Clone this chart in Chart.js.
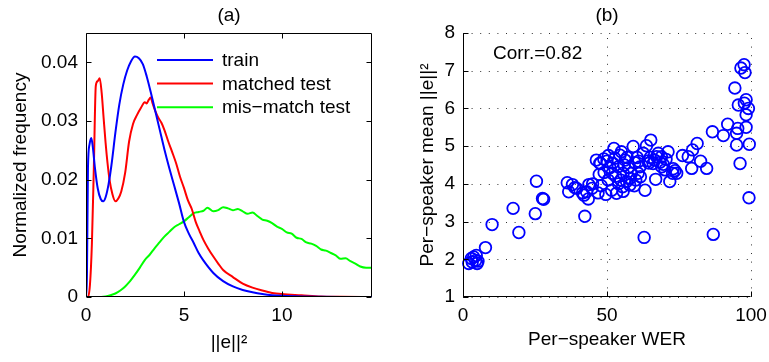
<!DOCTYPE html>
<html>
<head>
<meta charset="utf-8">
<script src="https://cdn.jsdelivr.net/npm/chart.js@4.4.1/dist/chart.umd.min.js"></script>
<style>
html, body { margin: 0; padding: 0; background: #fff; overflow: hidden; }
#wrap { position: relative; width: 769px; height: 362px; overflow: hidden; }
canvas { position: absolute; top: 0; }
#chart-a { left: 0; }
#chart-b { left: 385px; }
</style>
</head>
<body>
<div id="wrap">
  <canvas id="chart-a" width="385" height="362"></canvas>
  <canvas id="chart-b" width="400" height="362"></canvas>
</div>
<script>
// ---- panel (a): distributions of ||e||^2 ----
const trainX = [0, 0.05, 0.1, 0.18, 0.27, 0.35, 0.45, 0.6, 0.75, 0.88,
    1.0, 1.15, 1.3, 1.5, 1.7, 1.9, 2.1, 2.3, 2.5, 2.7,
    2.9, 3.1, 3.3, 3.5, 3.75, 4.0, 4.25, 4.5, 4.75, 5.0,
    5.25, 5.5, 5.75, 6.0, 6.5, 7.0, 7.5, 8.0, 8.5, 9.0,
    9.5, 10, 11, 12, 13, 14.6];
const trainY = [0, 0.004, 0.022, 0.026, 0.0271, 0.0255, 0.0222, 0.0185, 0.0167, 0.0163,
    0.0170, 0.0192, 0.0225, 0.0280, 0.0328, 0.0362, 0.0386, 0.0402, 0.0410, 0.0407,
    0.0397, 0.0376, 0.0350, 0.0322, 0.0287, 0.0252, 0.0220, 0.0190, 0.0160, 0.0128,
    0.0108, 0.0092, 0.0075, 0.0062, 0.0041, 0.0027, 0.0018, 0.0012, 0.0008, 0.0005,
    0.0003, 0.0002, 0.0001, 0.00005, 0.00002, 0];

const matchedX = [0, 0.1, 0.2, 0.3, 0.4, 0.5, 0.6, 0.7, 0.8, 0.9,
    1.0, 1.1, 1.2, 1.35, 1.5, 1.65, 1.8, 2.0, 2.2, 2.4,
    2.6, 2.8, 3.0, 3.1, 3.2, 3.3, 3.4, 3.55, 3.7, 3.85,
    4.0, 4.2, 4.4, 4.6, 4.8, 5.0, 5.2, 5.4, 5.6, 5.8,
    6.0, 6.25, 6.5, 6.75, 7.0, 7.5, 8.0, 8.5, 9.0, 9.5,
    10, 11, 12, 13, 14.6];
const matchedY = [0, 0, 0.002, 0.009, 0.022, 0.036, 0.0368, 0.0373, 0.0348, 0.0305,
    0.0263, 0.0228, 0.0200, 0.0175, 0.0163, 0.0168, 0.0180, 0.0212, 0.0265, 0.0295,
    0.0310, 0.0322, 0.0332, 0.0330, 0.0336, 0.0340, 0.0330, 0.0316, 0.0305, 0.0297,
    0.0285, 0.0265, 0.0247, 0.0228, 0.0205, 0.0186, 0.0165, 0.0150, 0.0128, 0.0112,
    0.0097, 0.0082, 0.0069, 0.0057, 0.0046, 0.0034, 0.0023, 0.0016, 0.0011, 0.0007,
    0.0005, 0.0003, 0.0001, 0.00005, 0];

const mismatchX = [0, 0.5, 1.0, 1.25, 1.5, 1.75, 2.0, 2.25, 2.5, 2.75,
    3.0, 3.25, 3.5, 3.75, 4.0, 4.25, 4.5, 4.75, 5.0, 5.25,
    5.5, 5.75, 6.0, 6.2, 6.5, 6.75, 7.0, 7.25, 7.5, 7.75,
    8.0, 8.25, 8.5, 8.75, 9.0, 9.25, 9.5, 9.75, 10, 10.25,
    10.5, 10.75, 11, 11.25, 11.5, 11.75, 12, 12.25, 12.5, 12.75,
    13, 13.25, 13.5, 13.75, 14, 14.3, 14.6];
const mismatchY = [0, 0, 0.0001, 0.0003, 0.0006, 0.0011, 0.0018, 0.0027, 0.0038, 0.0050,
    0.0063, 0.0072, 0.0083, 0.0093, 0.0103, 0.0111, 0.0119, 0.0124, 0.0129, 0.0136,
    0.0143, 0.0145, 0.0147, 0.0152, 0.0146, 0.0148, 0.0153, 0.0151, 0.0148, 0.0150,
    0.0146, 0.0142, 0.0144, 0.0138, 0.0132, 0.0130, 0.0126, 0.0120, 0.0116, 0.0110,
    0.0108, 0.0101, 0.0099, 0.0093, 0.0091, 0.0087, 0.0081, 0.0079, 0.0075, 0.0071,
    0.0065, 0.0066, 0.0061, 0.0057, 0.0052, 0.0050, 0.0050];

const seriesNamesA = ['train', 'matched test', 'mis\u2212match test'];
const xTicksA = [0, 5, 10];
const yTicksA = [0, 0.01, 0.02, 0.03, 0.04];

// ---- panel (b): per-speaker WER vs mean ||e||^2 ----
const werX = [2.0, 2.9, 3.7, 4.4, 4.9, 4.6, 3.2, 7.8, 10.1, 17.4,
    19.4, 25.1, 25.5, 27.6, 28.0, 42.3, 36.2, 36.7, 38.0, 38.8,
    41.5, 42.9, 43.5, 43.7, 44.8, 46.9, 46.3, 47.7, 47.3, 48.9,
    49.6, 50.4, 51.0, 52.4, 51.8, 52.7, 53.3, 53.9, 54.5, 54.8,
    55.4, 55.6, 56.3, 56.8, 57.4, 57.9, 58.5, 59.1, 59.7, 60.0,
    60.8, 61.4, 61.6, 62.6, 63.2, 63.7, 65.2, 64.3, 66.0, 66.9,
    67.2, 67.8, 68.4, 68.9, 69.5, 70.1, 71.2, 71.8, 72.8, 73.6,
    74.2, 76.2, 78.2, 79.4, 79.7, 81.3, 82.5, 84.6, 86.6, 90.4,
    91.9, 94.4, 95.4, 95.0, 95.6, 95.0, 96.2, 96.5, 97.6, 97.9,
    97.7, 98.3, 99.1, 98.3, 98.3, 99.4, 99.3, 62.9, 86.9, 51.6,
    55.6, 48.0, 45.0, 39.5, 50.0, 53.0, 57.0, 58.0, 59.5, 61.0,
    65.0, 66.5, 69.0, 70.5, 56.0, 54.0, 52.0, 49.0, 60.5, 64.5,
    42.0, 50.5, 55.0, 47.5, 73.0, 5.2];
const meanE = [1.89, 2.02, 2.06, 1.97, 1.89, 2.10, 1.93, 2.31, 2.92, 3.35,
    2.71, 3.21, 4.07, 3.61, 3.59, 3.14, 4.03, 3.79, 3.98, 3.90,
    3.76, 3.79, 3.60, 3.98, 3.88, 3.76, 4.63, 4.54, 4.25, 4.66,
    3.72, 4.10, 4.43, 4.94, 4.28, 4.68, 3.75, 4.45, 4.76, 4.10,
    3.92, 4.28, 4.63, 4.06, 4.43, 3.97, 4.28, 4.99, 4.56, 4.10,
    4.28, 4.45, 4.19, 4.81, 3.83, 5.01, 5.16, 4.61, 4.54, 4.12,
    4.72, 4.81, 4.57, 4.72, 4.52, 4.37, 4.85, 4.06, 4.28, 4.35,
    4.28, 4.75, 4.72, 4.41, 4.90, 5.07, 4.60, 4.41, 5.38, 5.28,
    5.58, 6.54, 5.47, 5.03, 6.09, 5.34, 4.54, 7.07, 7.16, 6.95,
    6.14, 6.23, 6.00, 5.83, 5.50, 5.05, 3.63, 2.58, 2.66, 3.83,
    3.80, 3.95, 4.00, 3.88, 4.60, 4.20, 4.70, 4.15, 3.95, 4.60,
    4.70, 4.63, 4.45, 4.65, 4.50, 4.00, 4.55, 4.30, 4.70, 4.55,
    3.70, 4.75, 4.85, 4.55, 4.40, 1.95];

const xTicksB = [0, 50, 100];
const yTicksB = [1, 2, 3, 4, 5, 6, 7, 8];
const corrLabel = 'Corr.=0.82';

function pairs(xs, ys) {
    return xs.map((x, i) => ({x: x, y: ys[i]}));
}

Chart.defaults.font.family = '"Liberation Sans", Arial, Helvetica, sans-serif';
Chart.defaults.font.size = 19;
Chart.defaults.color = '#000';

// matlab style box, inner ticks, dotted grid, panel title and text
const matlabAxes = {
    id: 'matlabAxes',
    beforeDatasetsDraw(chart, args, opts) {
        if (!opts.grid) return;
        const {ctx, chartArea: a, scales: {x, y}} = chart;
        ctx.save();
        ctx.strokeStyle = '#333';
        ctx.lineWidth = 1;
        ctx.setLineDash([1, 7.6]);
        x.ticks.forEach(t => {
            const px = Math.round(x.getPixelForValue(t.value)) + 0.5;
            ctx.beginPath(); ctx.moveTo(px, a.bottom); ctx.lineTo(px, a.top); ctx.stroke();
        });
        y.ticks.forEach(t => {
            const py = Math.round(y.getPixelForValue(t.value)) + 0.5;
            ctx.beginPath(); ctx.moveTo(a.left, py); ctx.lineTo(a.right, py); ctx.stroke();
        });
        ctx.restore();
    },
    afterDraw(chart, args, opts) {
        const {ctx, chartArea: a, scales: {x, y}} = chart;
        const L = Math.round(a.left) + 0.5, R = Math.round(a.right) - 0.5;
        const T = Math.round(a.top) + 0.5, B = Math.round(a.bottom) - 0.5;
        const tl = 5;
        ctx.save();
        ctx.strokeStyle = '#000';
        ctx.lineWidth = 1;
        ctx.setLineDash([]);
        ctx.beginPath();
        ctx.moveTo(L, T); ctx.lineTo(L, B); ctx.lineTo(R, B);
        if (opts.box) { ctx.lineTo(R, T); ctx.lineTo(L, T); }
        ctx.stroke();
        x.ticks.forEach(t => {
            const px = Math.round(x.getPixelForValue(t.value)) + 0.5;
            ctx.beginPath(); ctx.moveTo(px, B); ctx.lineTo(px, B - tl); ctx.stroke();
            if (opts.box) { ctx.beginPath(); ctx.moveTo(px, T); ctx.lineTo(px, T + tl); ctx.stroke(); }
        });
        y.ticks.forEach(t => {
            const py = Math.round(y.getPixelForValue(t.value)) + 0.5;
            ctx.beginPath(); ctx.moveTo(L, py); ctx.lineTo(L + tl, py); ctx.stroke();
            if (opts.box) { ctx.beginPath(); ctx.moveTo(R, py); ctx.lineTo(R - tl, py); ctx.stroke(); }
        });

        // panel title
        ctx.fillStyle = '#000';
        ctx.font = '19px "Liberation Sans", Arial, sans-serif';
        ctx.textAlign = 'center';
        ctx.textBaseline = 'middle';
        ctx.fillText(opts.title, (a.left + a.right) / 2, 16);

        // legend inside the axes
        if (opts.legend) {
            ctx.textAlign = 'left';
            chart.data.datasets.forEach((ds, i) => {
                const ly = 60 + i * 23.6;
                ctx.strokeStyle = ds.borderColor;
                ctx.lineWidth = 2;
                ctx.beginPath(); ctx.moveTo(157, ly); ctx.lineTo(213, ly); ctx.stroke();
                ctx.fillText(ds.label, 222, ly + 1);
            });
        }
        if (opts.note) {
            ctx.textAlign = 'left';
            ctx.fillText(opts.note, 108, 54);
        }
        ctx.restore();
    }
};

function fixTicks(list) {
    return scale => { scale.ticks = list.map(v => ({value: v})); };
}

const chartA = new Chart(document.getElementById('chart-a'), {
    type: 'line',
    data: {
        datasets: [
            {label: seriesNamesA[0], data: pairs(trainX, trainY), borderColor: '#0000ff'},
            {label: seriesNamesA[1], data: pairs(matchedX, matchedY), borderColor: '#ff0000'},
            {label: seriesNamesA[2], data: pairs(mismatchX, mismatchY), borderColor: '#00ff00'}
        ]
    },
    options: {
        responsive: false,
        animation: false,
        layout: {padding: {top: 33, right: 13, left: 0, bottom: 0}},
        elements: {
            point: {radius: 0},
            line: {borderWidth: 2, cubicInterpolationMode: 'monotone', fill: false}
        },
        plugins: {
            legend: {display: false},
            tooltip: {enabled: false},
            matlabAxes: {box: true, grid: false, legend: true, title: '(a)'}
        },
        scales: {
            x: {
                type: 'linear', min: 0, max: 14.6,
                afterBuildTicks: fixTicks(xTicksA),
                afterFit: s => { s.height = 65; },
                grid: {display: false, drawTicks: false},
                border: {display: false},
                ticks: {padding: 7, maxRotation: 0},
                title: {display: true, text: '||e||\u00b2', padding: {top: 0, bottom: 8}}
            },
            y: {
                type: 'linear', min: 0, max: 0.045,
                afterBuildTicks: fixTicks(yTicksA),
                afterFit: s => { s.width = 86; },
                grid: {display: false, drawTicks: false},
                border: {display: false},
                ticks: {padding: 8},
                title: {display: true, text: 'Normalized frequency', padding: {top: 9, bottom: 0}}
            }
        }
    },
    plugins: [matlabAxes]
});

const chartB = new Chart(document.getElementById('chart-b'), {
    type: 'scatter',
    data: {
        datasets: [{
            label: 'speakers',
            data: pairs(werX, meanE),
            borderColor: '#0000ff',
            backgroundColor: 'rgba(0,0,0,0)',
            pointRadius: 5.8,
            borderWidth: 1.8,
            clip: false
        }]
    },
    options: {
        responsive: false,
        animation: false,
        layout: {padding: {top: 33, right: 34, left: 0, bottom: 0}},
        plugins: {
            legend: {display: false},
            tooltip: {enabled: false},
            matlabAxes: {box: false, grid: true, legend: false, title: '(b)', note: corrLabel}
        },
        scales: {
            x: {
                type: 'linear', min: 0, max: 100,
                afterBuildTicks: fixTicks(xTicksB),
                afterFit: s => { s.height = 65; },
                grid: {display: false, drawTicks: false},
                border: {display: false},
                ticks: {padding: 7, maxRotation: 0},
                title: {display: true, text: 'Per\u2212speaker WER', padding: {top: 0, bottom: 11}}
            },
            y: {
                type: 'linear', min: 1, max: 8,
                afterBuildTicks: fixTicks(yTicksB),
                afterFit: s => { s.width = 78; },
                grid: {display: false, drawTicks: false},
                border: {display: false},
                ticks: {padding: 8},
                title: {display: true, text: 'Per\u2212speaker mean ||e||\u00b2', padding: {top: 31, bottom: 0}}
            }
        }
    },
    plugins: [matlabAxes]
});
</script>
</body>
</html>
